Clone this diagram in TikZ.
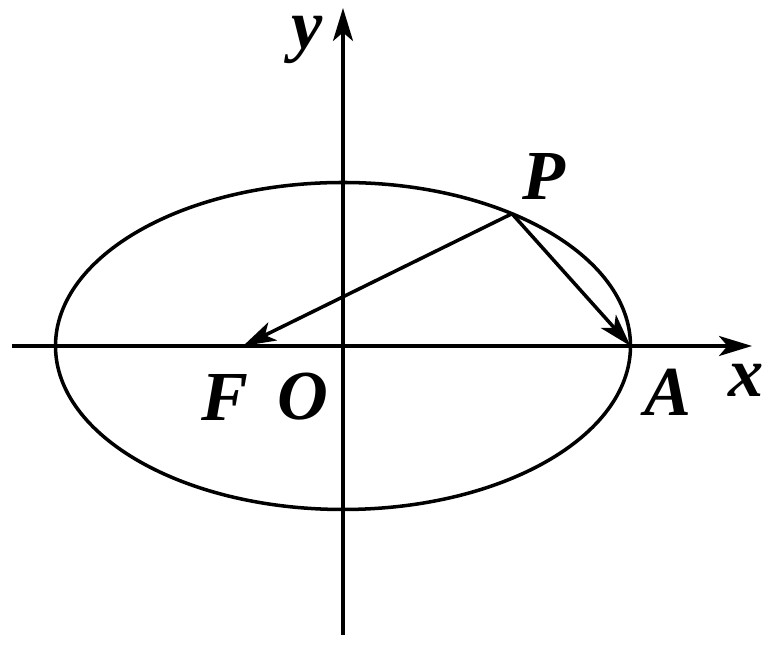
\documentclass[tikz,border=0pt]{standalone}
\usepackage{fontspec}
\setmainfont{Liberation Serif}
\usetikzlibrary{arrows.meta}

\begin{document}
\begin{tikzpicture}[line width=2pt, >={Stealth[length=0.66cm,width=0.4cm,inset=0.17cm]},
  lbl/.style={inner sep=0pt, font=\fontsize{40}{44}\selectfont\bfseries\itshape}]
\useasboundingbox (-6.86,-6.02) rectangle (8.6,6.92);

% axes
\coordinate (X0) at (-6.62,0);
\coordinate (X1) at (8.18,0);
\coordinate (Y0) at (0,-5.78);
\coordinate (Y1) at (0,6.76);
\draw[->] (X0) -- (X1);
\draw[->] (Y0) -- (Y1);

% ellipse
\draw (0,0) ellipse (5.75cm and 3.27cm);

% points
\coordinate (F) at (-2.0,0);
\coordinate (A) at (5.75,0);
\coordinate (P) at ({5.75*cos(54)},{3.27*sin(54)});

\draw[->] (P) -- (F);
\draw[->] (P) -- (A);

% labels
\node[lbl] (LF) at (-2.36,-1.02) {F};
\node[lbl] (LO) at (-0.8,-1.02) {O};
\node[lbl] (LA) at (6.5,-0.92) {A};
\node[lbl] (LP) at (4.02,3.4) {P};
\node[lbl] (Lx) at (8.06,-0.68) {x};
\node[lbl] (Ly) at (-0.72,6.12) {y};

\end{tikzpicture}
\end{document}
